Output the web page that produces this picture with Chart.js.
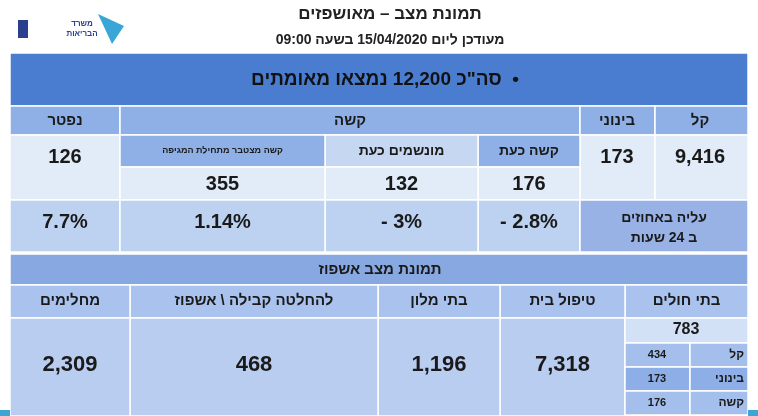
<!DOCTYPE html>
<html>
<head>
<meta charset="utf-8">
<script src="https://cdn.jsdelivr.net/npm/chart.js@4"></script>
<style>
  body { margin: 0; background: #fff; }
  #wrap { width: 758px; height: 416px; }
</style>
</head>
<body>
<div id="wrap"><canvas id="board" width="758" height="416"></canvas></div>
<script>
// header texts
const title = 'תמונת מצב – מאושפזים';
const subtitle = 'מעודכן ליום 15/04/2020 בשעה 09:00';
const totalConfirmed = '12,200';

// top table: severity
const severityLabels = ['קל', 'בינוני', 'קשה', 'נפטר'];
const severityValues = ['9,416', '173', null, '126'];
const severeSubLabels = ['קשה כעת', 'מונשמים כעת', 'קשה מצטבר מתחילת המגיפה'];
const severeSubValues = ['176', '132', '355'];
const changeLabel = ['עליה באחוזים', 'ב 24 שעות'];
const changeValues = ['- 2.8%', '- 3%', '1.14%', '7.7%'];

// bottom table: hospitalization
const placeTitle = 'תמונת מצב אשפוז';
const placeLabels = ['בתי חולים', 'טיפול בית', 'בתי מלון', 'להחלטה קבילה \\ אשפוז', 'מחלימים'];
const placeValues = ['783', '7,318', '1,196', '468', '2,309'];
const hospitalLabels = ['קל', 'בינוני', 'קשה'];
const hospitalValues = ['434', '173', '176'];

const FONT = '"Liberation Sans", Arial, sans-serif';

const tablePlugin = {
    id: 'tablePlugin',
    afterDraw(chart) {
        const ctx = chart.ctx;
        const sx = chart.scales.x, sy = chart.scales.y;
        const X = v => sx.getPixelForValue(v);
        const Y = v => sy.getPixelForValue(v);

        function cell(x0, y0, x1, y1, fill) {
            ctx.fillStyle = fill;
            ctx.fillRect(X(x0), Y(y0), X(x1) - X(x0), Y(y1) - Y(y0));
            ctx.strokeStyle = '#ffffff';
            ctx.lineWidth = 1.5;
            ctx.strokeRect(X(x0), Y(y0), X(x1) - X(x0), Y(y1) - Y(y0));
        }
        function text(str, x, y, size, color, align) {
            ctx.font = 'bold ' + size + 'px ' + FONT;
            ctx.fillStyle = color || '#1a1a1a';
            ctx.textAlign = align || 'center';
            ctx.textBaseline = 'middle';
            // only Hebrew strings run right to left
            ctx.direction = /[\u0590-\u05FF]/.test(str) ? 'rtl' : 'ltr';
            ctx.fillText(str, X(x), Y(y));
        }

        // header
        text(title, 390, 14, 17, '#222');
        text(subtitle, 390, 40, 14, '#222');

        // logo
        ctx.fillStyle = '#2b3f8f';
        ctx.fillRect(X(18), Y(20), 10, 18);
        ctx.fillStyle = '#3aa6d6';
        ctx.beginPath();
        ctx.moveTo(X(98), Y(14)); ctx.lineTo(X(112), Y(44)); ctx.lineTo(X(124), Y(26)); ctx.closePath();
        ctx.fill();
        text('משרד', 82, 24, 8, '#2b3f8f');
        text('הבריאות', 82, 34, 8, '#2b3f8f');

        // banner
        cell(10, 53, 748, 106, '#4a7dd0');
        text('•  סה"כ ' + totalConfirmed + ' נמצאו מאומתים', 385, 80, 19, '#111');

        const headBlue = '#8eb0e6', light = '#e2ecf9', mid = '#bcd2f0', dark = '#98b2e6';

        // severity headers
        cell(10, 106, 120, 135, headBlue);
        cell(120, 106, 580, 135, headBlue);
        cell(580, 106, 655, 135, headBlue);
        cell(655, 106, 748, 135, headBlue);
        text(severityLabels[3], 65, 121, 15);
        text(severityLabels[2], 350, 121, 15);
        text(severityLabels[1], 617, 121, 15);
        text(severityLabels[0], 700, 121, 15);

        // values row
        cell(10, 135, 120, 200, light);
        text(severityValues[3], 65, 157, 20);
        cell(580, 135, 655, 200, light);
        text(severityValues[1], 617, 157, 20);
        cell(655, 135, 748, 200, light);
        text(severityValues[0], 700, 157, 20);

        const subX = [[478, 580], [325, 478], [120, 325]];
        const subFill = [headBlue, '#c6d7f2', headBlue];
        subX.forEach((r, i) => {
            cell(r[0], 135, r[1], 167, subFill[i]);
            text(severeSubLabels[i], (r[0] + r[1]) / 2, 151, i === 2 ? 9 : 14);
            cell(r[0], 167, r[1], 200, light);
            text(severeSubValues[i], (r[0] + r[1]) / 2, 184, 20);
        });

        // change row
        cell(10, 200, 120, 252, mid);
        text(changeValues[3], 65, 222, 20);
        subX.forEach((r, i) => {
            cell(r[0], 200, r[1], 252, mid);
            text(changeValues[i], (r[0] + r[1]) / 2, 222, 20);
        });
        cell(580, 200, 748, 252, dark);
        text(changeLabel[0], 664, 218, 14);
        text(changeLabel[1], 664, 238, 14);

        // hospitalization table
        cell(10, 254, 748, 285, '#88a8e2');
        text(placeTitle, 380, 270, 15);
        const colX = [[625, 748], [500, 625], [378, 500], [130, 378], [10, 130]];
        colX.forEach((r, i) => {
            cell(r[0], 285, r[1], 318, '#a9c3ee');
            text(placeLabels[i], (r[0] + r[1]) / 2, 301, 15);
            if (i > 0) {
                cell(r[0], 318, r[1], 416, '#b8cdf0');
                text(placeValues[i], (r[0] + r[1]) / 2, 365, 22);
            }
        });
        cell(625, 318, 748, 343, '#d3e1f6');
        text(placeValues[0], 686, 330, 16);
        const subFills = ['#a4bfeb', '#8daee6', '#a4bfeb'];
        hospitalLabels.forEach((lab, i) => {
            const y0 = 343 + i * 24;
            cell(625, y0, 690, y0 + 24, subFills[i]);
            cell(690, y0, 748, y0 + 24, subFills[i]);
            text(hospitalValues[i], 657, y0 + 12, 11);
            text(lab, 744, y0 + 12, 12, '#1a1a1a', 'right');
        });

        // bottom strip
        ctx.fillStyle = '#3aa6d6';
        ctx.fillRect(X(0), Y(410), X(10), Y(416) - Y(410));
        ctx.fillRect(X(748), Y(410), X(758) - X(748), Y(416) - Y(410));
    }
};

new Chart(document.getElementById('board'), {
    type: 'scatter',
    data: { datasets: [{ data: [] }] },
    options: {
        responsive: false,
        animation: false,
        layout: { padding: 0 },
        plugins: { legend: { display: false }, tooltip: { enabled: false } },
        scales: {
            x: { type: 'linear', min: 0, max: 758, display: false },
            y: { type: 'linear', min: 0, max: 416, reverse: true, display: false }
        }
    },
    plugins: [tablePlugin]
});
</script>
</body>
</html>
